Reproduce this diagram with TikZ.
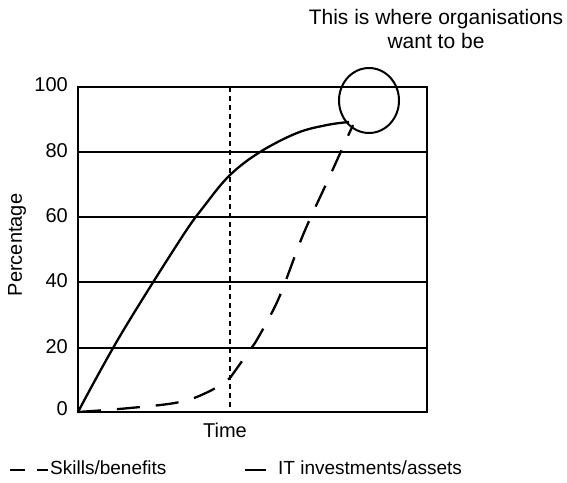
\documentclass[tikz,border=0pt]{standalone}
\usepackage{fontspec}
\setmainfont{Liberation Sans}
\usetikzlibrary{shapes.geometric}
\begin{document}
\begin{tikzpicture}[x=1pt,y=-1pt,
  lbl/.style={font=\fontsize{20}{24}\selectfont, inner sep=0pt},
  legtxt/.style={font=\fontsize{19}{23}\selectfont, inner sep=0pt, anchor=west},
  grid/.style={line width=1.1pt},
  frame/.style={line width=1.3pt},
  curve/.style={line width=2.3pt, line join=round},
  dashcurve/.style={line width=2.3pt, dash pattern=on 23pt off 16pt},
  vdot/.style={line width=2.6pt, dash pattern=on 5pt off 4pt},
  goal/.style={draw, line width=2pt, ellipse, minimum width=60pt, minimum height=65pt, inner sep=0pt}]
\useasboundingbox (0,0) rectangle (567,482);
% frame and grid
\coordinate (bl) at (78,412);
\coordinate (tr) at (427,87);
\foreach \yy in {152,217,282,348} \draw[grid] (78,\yy) -- (427,\yy);
\draw[frame] (bl) rectangle (tr);
% tick labels
\node[lbl, anchor=east] (t100) at (68,85) {100};
\node[lbl, anchor=east] (t80) at (68,151) {80};
\node[lbl, anchor=east] (t60) at (68,216) {60};
\node[lbl, anchor=east] (t40) at (68,281) {40};
\node[lbl, anchor=east] (t20) at (68,347) {20};
\node[lbl, anchor=east] (t0) at (68,409) {0};
\node[lbl, rotate=90] (ylab) at (17,245) {Percentage};
\node[lbl] (xlab) at (225,430) {Time};
% dotted vertical
\coordinate (vtop) at (230,87);
\coordinate (vbot) at (230,412);
\draw[vdot] (vtop) -- (vbot);
% goal ellipse
\node[goal] (goal) at (369,100.5) {};
% solid curve
\draw[curve] plot[smooth, tension=0.6] coordinates {(78,412) (120,336) (180,240) (205,205) (230,175) (260,152) (297,133) (327,125) (349,122)};
% dashed curve
\draw[dashcurve] plot[smooth, tension=0.6] coordinates {(78,412) (130,408) (180,402) (210,391) (230,378)}
  -- plot[smooth, tension=0.6] coordinates {(255,343) (278,300) (303,235) (328,180) (353,125)};
% title
\node[font=\fontsize{21}{23.5}\selectfont, align=center, inner sep=0pt] (title) at (436,29) {This is where organisations\\want to be};
% legend
\coordinate (l1a) at (10,470); \coordinate (l1b) at (25,470);
\coordinate (l2a) at (37,470); \coordinate (l2b) at (48,470);
\draw[line width=2.3pt] (l1a) -- (l1b);
\draw[line width=2.3pt] (l2a) -- (l2b);
\node[legtxt] (leg1) at (50,468) {Skills/benefits};
\coordinate (l3a) at (245,470); \coordinate (l3b) at (266,470);
\draw[line width=2.3pt] (l3a) -- (l3b);
\node[legtxt] (leg2) at (278,468) {IT investments/assets};
\end{tikzpicture}
\end{document}
